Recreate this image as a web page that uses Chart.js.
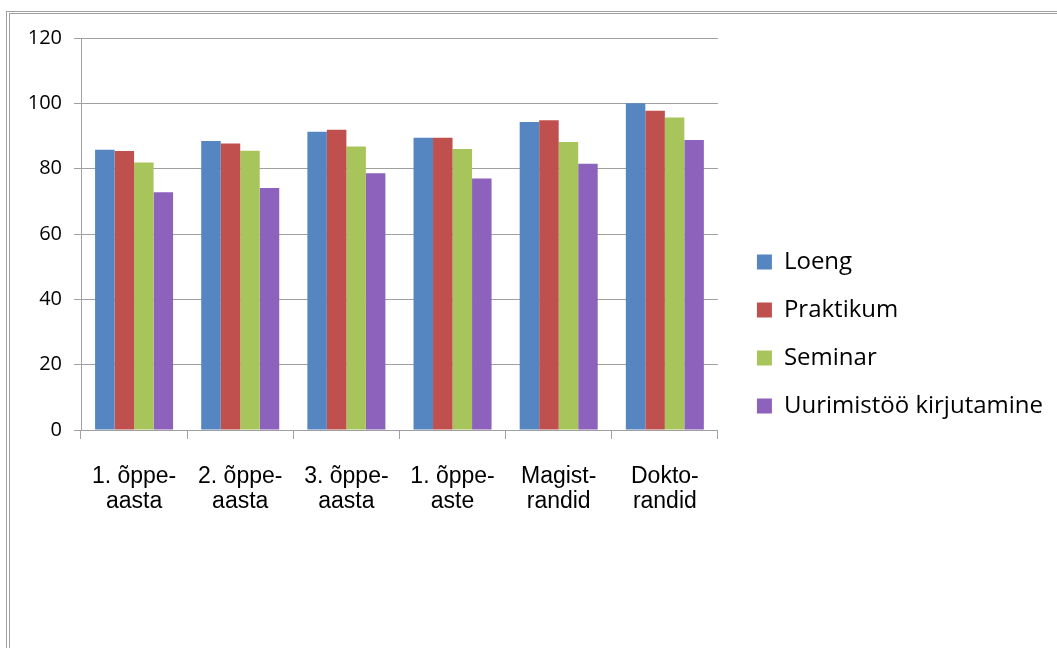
<!DOCTYPE html>
<html>
<head>
<meta charset="utf-8">
<script src="https://cdn.jsdelivr.net/npm/chart.js@4/dist/chart.umd.min.js"></script>
<style>
  body { margin: 0; background: #fff; }
  #frame {
    position: absolute; left: 6px; top: 11px; width: 1060px; height: 650px;
    border-left: 4px double #a0a0a0; border-top: 3px double #a0a0a0;
  }
  #wrap { position: absolute; left: 0; top: 0; width: 1057px; height: 648px; }
</style>
</head>
<body>
<div id="frame"></div>
<div id="wrap"><canvas id="chart"></canvas></div>
<script>
//data
const categories = [["1. õppe-", "aasta"], ["2. õppe-", "aasta"], ["3. õppe-", "aasta"], ["1. õppe-", "aste"], ["Magist-", "randid"], ["Dokto-", "randid"]];
const loeng = [85.8, 88.5, 91.3, 89.5, 94.3, 100];
const praktikum = [85.4, 87.7, 91.9, 89.5, 94.8, 97.7];
const seminar = [81.9, 85.5, 86.8, 86.0, 88.2, 95.7];
const uurimistoo = [72.8, 74.1, 78.6, 77.0, 81.5, 88.8];
const yTicks = [0, 20, 40, 60, 80, 100, 120];

const chartCanvas = document.getElementById("chart");

const chartData = {
    labels: categories,
    datasets: [
        { label: 'Loeng', data: loeng, backgroundColor: '#5586c1' },
        { label: 'Praktikum', data: praktikum, backgroundColor: '#c0504d' },
        { label: 'Seminar', data: seminar, backgroundColor: '#a7c55b' },
        { label: 'Uurimistöö kirjutamine', data: uurimistoo, backgroundColor: '#8c62bc' }
    ]
};

const chartOptions = {
    responsive: true,
    maintainAspectRatio: false,
    animation: false,
    layout: { padding: { left: 0, top: 38, right: 4, bottom: 18 } },
    datasets: {
        bar: { categoryPercentage: 0.735, barPercentage: 1.0 }
    },
    scales: {
        x: {
            grid: { drawOnChartArea: false, drawTicks: true, tickLength: 9, color: '#a0a0a0' },
            border: { color: '#a0a0a0' },
            ticks: {
                color: '#000',
                padding: 25,
                maxRotation: 0,
                font: { family: 'Liberation Sans', size: 23, lineHeight: 1.1 }
            },
            afterFit: s => { s.height = 200; }
        },
        y: {
            min: 0,
            max: 120,
            afterBuildTicks: s => { s.ticks = yTicks.map(v => ({ value: v })); },
            grid: { color: '#a0a0a0', tickLength: 7 },
            border: { color: '#a0a0a0' },
            ticks: {
                color: '#000',
                padding: 12,
                font: { family: 'Open Sans', size: 20 }
            },
            afterFit: s => { s.width = 81; }
        },
        // spacer between plot and legend
        gap: {
            type: 'linear',
            position: 'right',
            display: true,
            grid: { display: false },
            border: { display: false },
            ticks: { display: false },
            afterFit: s => { s.width = 15; }
        }
    },
    plugins: {
        legend: {
            position: 'right',
            maxWidth: 340,
            labels: {
                color: '#000',
                boxWidth: 15,
                boxHeight: 15,
                padding: 24,
                font: { family: 'Open Sans', size: 24 }
            }
        },
        tooltip: { enabled: false }
    }
};

let barChart = new Chart(chartCanvas, {
    type: 'bar',
    data: chartData,
    options: chartOptions
});
</script>
</body>
</html>
